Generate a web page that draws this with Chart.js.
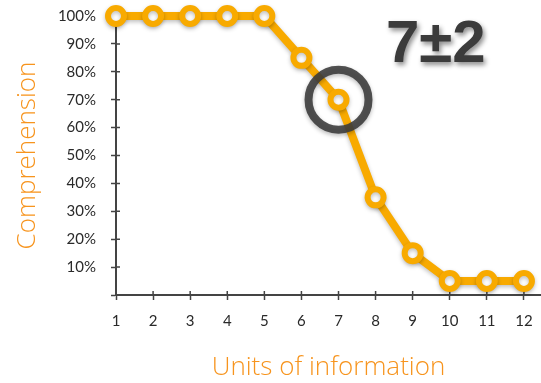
<!DOCTYPE html>
<html>
<head>
<meta charset="utf-8">
<script src="https://cdn.jsdelivr.net/npm/chart.js@4"></script>
<style>
  html, body { margin: 0; padding: 0; background: #fff; }
  #wrap { width: 541px; height: 383px; }
</style>
</head>
<body>
<div id="wrap"><canvas id="chart"></canvas></div>
<script>
// data
const units = [1, 2, 3, 4, 5, 6, 7, 8, 9, 10, 11, 12];
const comprehension = [100, 100, 100, 100, 100, 85, 70, 35, 15, 5, 5, 5];
const yTicks = [10, 20, 30, 40, 50, 60, 70, 80, 90, 100];
const highlightUnit = 7;
const badge = '7±2';

const orange = '#f8aa00';
const axisColor = '#444';

// tick marks cross the axis: draw the inner half too
const innerTicks = {
  id: 'innerTicks',
  beforeDatasetsDraw(chart) {
    const { ctx, chartArea, scales: { x, y } } = chart;
    ctx.save();
    ctx.strokeStyle = axisColor;
    ctx.lineWidth = 1.5;
    ctx.beginPath();
    y.ticks.forEach(t => {
      const py = y.getPixelForValue(t.value);
      ctx.moveTo(chartArea.left, py);
      ctx.lineTo(chartArea.left + 4, py);
    });
    x.ticks.forEach(t => {
      const px = x.getPixelForValue(t.value);
      ctx.moveTo(px, chartArea.bottom);
      ctx.lineTo(px, chartArea.bottom - 4);
    });
    ctx.stroke();
    ctx.restore();
  }
};

// circle around the highlighted point + the 7±2 badge
const annotate = {
  id: 'annotate',
  beforeDatasetsDraw(chart) {
    const ctx = chart.ctx;
    ctx.save();
    ctx.shadowColor = 'rgba(0,0,0,0.25)';
    ctx.shadowBlur = 4;
    ctx.shadowOffsetY = 2;
  },
  afterDatasetsDraw(chart) {
    const ctx = chart.ctx;
    ctx.restore();
    const x = chart.scales.x.getPixelForValue(highlightUnit);
    const i = units.indexOf(highlightUnit);
    const y = chart.scales.y.getPixelForValue(comprehension[i]);
    ctx.save();
    ctx.shadowColor = 'rgba(0,0,0,0.3)';
    ctx.shadowBlur = 4;
    ctx.shadowOffsetY = 2;
    ctx.globalAlpha = 0.88;
    ctx.strokeStyle = '#3a3a3a';
    ctx.lineWidth = 8;
    ctx.beginPath();
    ctx.arc(x, y, 30, 0, Math.PI * 2);
    ctx.stroke();
    ctx.restore();

    ctx.save();
    ctx.font = 'bold 60px "Liberation Sans", Arial, sans-serif';
    ctx.fillStyle = '#3b3b3b';
    ctx.textBaseline = 'alphabetic';
    ctx.textAlign = 'left';
    ctx.shadowColor = 'rgba(0,0,0,0.45)';
    ctx.shadowBlur = 5;
    ctx.shadowOffsetX = 2;
    ctx.shadowOffsetY = 3;
    ctx.fillText(badge, 386, 62);
    ctx.restore();
  }
};

new Chart(document.getElementById('chart'), {
  type: 'line',
  data: {
    datasets: [{
      data: units.map((u, i) => ({ x: u, y: comprehension[i] })),
      borderColor: orange,
      borderWidth: 8,
      pointRadius: 8,
      pointBorderWidth: 6,
      pointBackgroundColor: '#fff',
      pointBorderColor: orange,
      tension: 0,
      clip: false
    }]
  },
  options: {
    responsive: true,
    maintainAspectRatio: false,
    animation: false,
    layout: { autoPadding: false, padding: { top: 16, right: 0, left: 0, bottom: 0 } },
    plugins: { legend: { display: false }, tooltip: { enabled: false } },
    scales: {
      x: {
        type: 'linear',
        min: 1,
        max: 12.46,
        afterFit: s => { s.height = 88; s.paddingLeft = 0; s.paddingRight = 0; },
        border: { color: axisColor, width: 2 },
        grid: { drawOnChartArea: false, color: axisColor, tickLength: 5, tickWidth: 1.5 },
        ticks: {
          stepSize: 1,
          includeBounds: false,
          padding: 12,
          color: '#2a2a2a',
          font: { family: 'Lato', size: 15 },
          callback: v => Number.isInteger(v) ? String(v) : ''
        },
        title: {
          display: true,
          text: 'Units of information',
          color: '#f7941d',
          font: { family: 'Open Sans', size: 26, weight: 300 },
          padding: { top: 0, bottom: 0 }
        }
      },
      y: {
        min: 0,
        max: 100,
        afterFit: s => { s.width = 116; s.paddingTop = 0; s.paddingBottom = 0; },
        afterBuildTicks: s => { s.ticks = [0].concat(yTicks).map(v => ({ value: v })); },
        border: { color: axisColor, width: 2 },
        grid: { drawOnChartArea: false, color: axisColor, tickLength: 5, tickWidth: 1.5 },
        ticks: {
          padding: 15,
          color: '#2a2a2a',
          font: { family: 'Lato', size: 15 },
          callback: v => v === 0 ? '' : v + '%'
        },
        title: {
          display: true,
          text: 'Comprehension',
          color: '#f7941d',
          font: { family: 'Open Sans', size: 26, weight: 300 },
          padding: { top: 12, bottom: 0 }
        }
      }
    }
  },
  plugins: [innerTicks, annotate]
});
</script>
</body>
</html>
